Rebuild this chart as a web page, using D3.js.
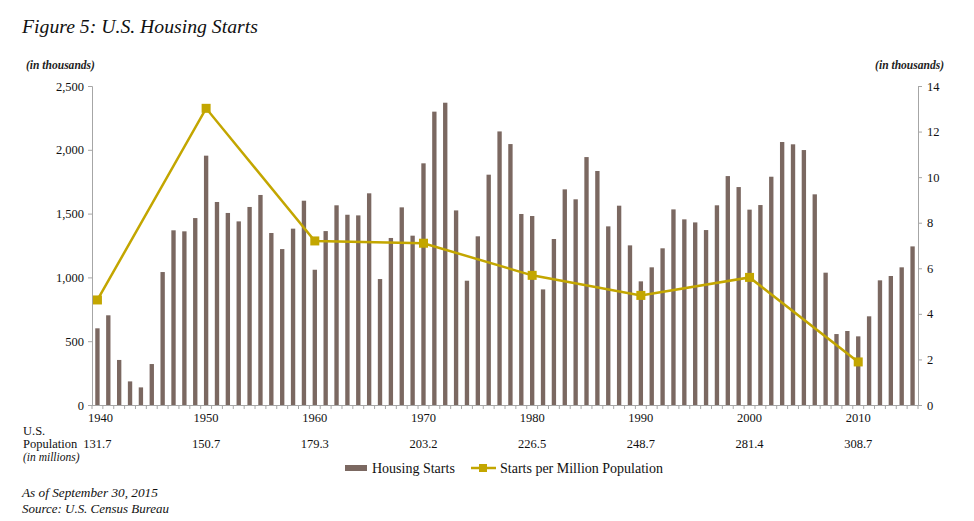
<!DOCTYPE html>
<html><head><meta charset="utf-8">
<script src="https://cdn.jsdelivr.net/npm/d3@7"></script>
<style>
body{margin:0;background:#fff;}
svg{display:block;}
svg text{font-family:"Liberation Serif","Times New Roman",serif;}
</style></head>
<body>
<svg id="c" width="974" height="521"></svg>
<script>
const years = d3.range(1940, 2016);
const starts = [601,703,353,185,138,321,1042,1369,1361,1465,
  1954,1591,1505,1439,1552,1646,1348,1222,1382,1601,
  1060,1363,1565,1491,1486,1659,987,1309,1549,1327,
  1894,2299,2369,1525,974,1322,1805,2144,2045,1497,
  1481,906,1301,1690,1612,1943,1834,1400,1562,1251,
  969,1079,1228,1533,1455,1431,1371,1565,1794,1708,
  1531,1567,1789,2061,2043,1998,1651,1037,556,580,
  538,695,977,1011,1079,1243];
const decades = [1940,1950,1960,1970,1980,1990,2000,2010];
const perMillion = [4.61,13.02,7.20,7.10,5.69,4.81,5.60,1.89];
const population = ["131.7","150.7","179.3","203.2","226.5","248.7","281.4","308.7"];
const leftTicks = [0,500,1000,1500,2000,2500];
const rightTicks = [0,2,4,6,8,10,12,14];

const BAR = "#7b6861", LINE = "#c3a600", AX = "#a6a6a6";
const svg = d3.select("#c");
const L = 92, R = 918, T = 86, B = 405;

const x = d3.scaleBand().domain(years).range([L, R]).paddingInner(0.6).paddingOuter(0.3);
const yL = d3.scaleLinear().domain([0, 2500]).range([B, T]);
const yR = d3.scaleLinear().domain([0, 14]).range([B, T]);
const cx = d => x(d) + x.bandwidth() / 2;

// bars
svg.append("g").selectAll("rect").data(years).join("rect")
  .attr("x", d => x(d)).attr("width", x.bandwidth())
  .attr("y", (d, i) => yL(starts[i])).attr("height", (d, i) => B - yL(starts[i]))
  .attr("fill", BAR);

// axes
const gl = svg.append("g").attr("transform", `translate(${L},0)`)
  .call(d3.axisLeft(yL).tickValues(leftTicks).tickSize(4).tickPadding(4).tickFormat(d3.format(",")));
const gr = svg.append("g").attr("transform", `translate(${R},0)`)
  .call(d3.axisRight(yR).tickValues(rightTicks).tickSize(4).tickPadding(5));
[gl, gr].forEach(g => {
  g.attr("font-family", null);
  g.select(".domain").attr("stroke", AX);
  g.selectAll(".tick line").attr("stroke", AX);
  g.selectAll(".tick text").attr("font-size", 12.5).attr("fill", "#111");
});

// bottom axis with ticks at band boundaries
const bnd = d3.scaleLinear().domain([0, years.length]).range([L, R]);
const gb = svg.append("g");
gb.append("line").attr("x1", L).attr("x2", R).attr("y1", B + 0.5).attr("y2", B + 0.5).attr("stroke", AX);
gb.selectAll("line.t").data(d3.range(0, years.length + 1)).join("line").attr("class", "t")
  .attr("x1", d => bnd(d)).attr("x2", d => bnd(d)).attr("y1", B).attr("y2", B + 4).attr("stroke", AX);

// year labels and population
svg.append("g").selectAll("text").data(decades).join("text")
  .attr("x", d => cx(d) + (d === 1940 ? 3 : 0)).attr("y", 422).attr("text-anchor", "middle")
  .attr("font-size", 12.5).attr("fill", "#111").text(d => d);
svg.append("g").selectAll("text").data(decades).join("text")
  .attr("x", d => cx(d)).attr("y", 448).attr("text-anchor", "middle")
  .attr("font-size", 12.5).attr("fill", "#111").text((d, i) => population[i]);
svg.append("text").attr("x", 23).attr("y", 435).attr("font-size", 12.5).attr("fill", "#111").text("U.S.");
svg.append("text").attr("x", 23).attr("y", 448).attr("font-size", 12.5).attr("fill", "#111").text("Population");
svg.append("text").attr("x", 23).attr("y", 461).attr("font-size", 11.5).attr("font-style", "italic").attr("fill", "#111").text("(in millions)");

// line
const line = d3.line().x(d => cx(d)).y((d, i) => yR(perMillion[i]));
svg.append("path").datum(decades).attr("d", line).attr("fill", "none")
  .attr("stroke", LINE).attr("stroke-width", 2.5);
svg.append("g").selectAll("rect").data(decades).join("rect")
  .attr("x", d => cx(d) - 4.5).attr("y", (d, i) => yR(perMillion[i]) - 4.5)
  .attr("width", 9).attr("height", 9).attr("fill", LINE);

function fit(t, w) { const cur = t.node().getComputedTextLength(); const fs = +t.attr("font-size"); t.attr("font-size", fs * w / cur); }

// unit labels
const u1 = svg.append("text").attr("x", 26).attr("y", 69).attr("font-size", 11).attr("font-style", "italic").attr("font-weight", "bold").attr("fill", "#222").text("(in thousands)");
const u2 = svg.append("text").attr("x", 944).attr("y", 69).attr("text-anchor", "end").attr("font-size", 11).attr("font-style", "italic").attr("font-weight", "bold").attr("fill", "#222").text("(in thousands)");
fit(u1, 69); fit(u2, 69);

// title
const title = svg.append("text").attr("x", 22).attr("y", 33).attr("font-size", 22).attr("font-style", "italic").attr("fill", "#111").text("Figure 5: U.S. Housing Starts");
fit(title, 236);

// legend
svg.append("rect").attr("x", 345).attr("y", 465).attr("width", 22).attr("height", 6).attr("fill", BAR);
svg.append("text").attr("x", 372).attr("y", 473).attr("font-size", 14).attr("fill", "#111").text("Housing Starts");
svg.append("line").attr("x1", 471).attr("x2", 496).attr("y1", 468).attr("y2", 468).attr("stroke", LINE).attr("stroke-width", 2.5);
svg.append("rect").attr("x", 479).attr("y", 464).attr("width", 8).attr("height", 8).attr("fill", LINE);
svg.append("text").attr("x", 500).attr("y", 473).attr("font-size", 14).attr("fill", "#111").text("Starts per Million Population");

// footnotes
const f1 = svg.append("text").attr("x", 22).attr("y", 497).attr("font-size", 14).attr("font-style", "italic").attr("fill", "#111").text("As of September 30, 2015");
const f2 = svg.append("text").attr("x", 22).attr("y", 513).attr("font-size", 14).attr("font-style", "italic").attr("fill", "#111").text("Source: U.S. Census Bureau");
fit(f1, 136); fit(f2, 147);
</script>
</body></html>
